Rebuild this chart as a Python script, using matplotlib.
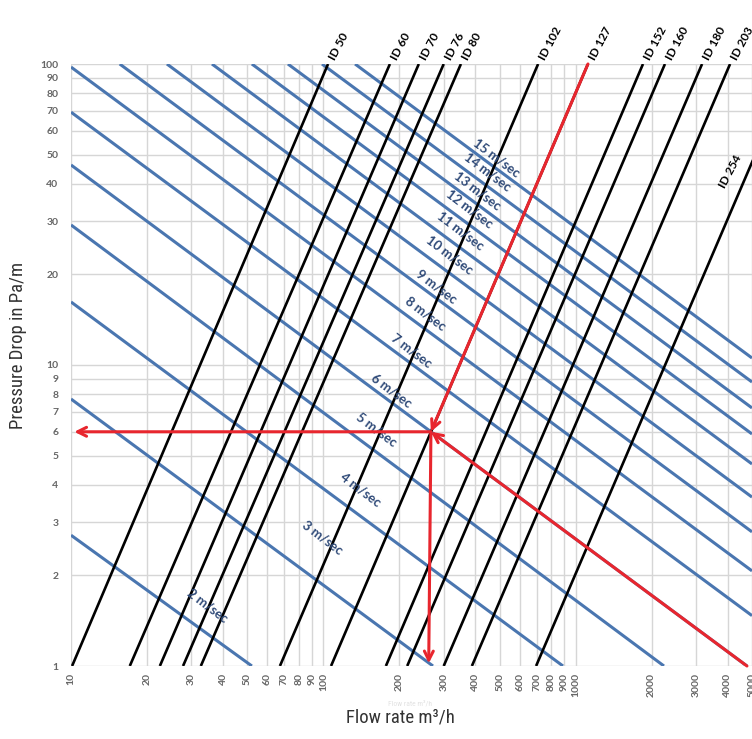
import numpy as np
import matplotlib
matplotlib.use('Agg')
import matplotlib.pyplot as plt

# pipe lines: flow rate (m3/h) where each line meets 1 Pa/m and 100 Pa/m
pipe_ids = ['ID 50', 'ID 60', 'ID 70', 'ID 76', 'ID 80', 'ID 102', 'ID 127',
            'ID 152', 'ID 160', 'ID 180', 'ID 203', 'ID 254']
pipe_q_at_1 = [10.1, 17.1, 22.5, 27.8, 32.7, 67.3, 107.3, 177, 215, 300, 388, 697]
pipe_q_at_100 = [104.4, 183.6, 239, 300, 351, 710, 1119, 1849, 2259, 3170, 4093, 7345]

# velocity lines (m/sec): start and end points
velocities = [2, 3, 4, 5, 6, 7, 8, 9, 10, 11, 12, 13, 14, 15]
vel_start_q = [10, 10, 10, 10, 10, 10, 10, 15.6, 24.0, 36.2, 52.1, 72.4, 98.8, 133.6]
vel_start_dp = [2.72, 7.71, 16.2, 29.2, 46.2, 69.2, 97.7, 100, 100, 100, 100, 100, 100, 100]
vel_end_q = [52.1, 272, 891, 2239, 4775, 5000, 5000, 5000, 5000, 5000, 5000, 5000, 5000, 5000]
vel_end_dp = [1, 1, 1, 1, 1, 1.47, 2.07, 2.79, 3.64, 4.69, 5.90, 7.20, 8.78, 10.55]

# worked example: ID 127 at 6 m/sec
op_q = 267
op_dp = 6
op_pipe = 'ID 127'
op_vel = 6

x_ticks = [10, 20, 30, 40, 50, 60, 70, 80, 90, 100, 200, 300, 400, 500, 600, 700,
           800, 900, 1000, 2000, 3000, 4000, 5000]
y_ticks = [1, 2, 3, 4, 5, 6, 7, 8, 9, 10, 20, 30, 40, 50, 60, 70, 80, 90, 100]

# label positions (flow, pressure drop) for the velocity labels
vel_label_q = [34.9, 98.9, 140, 163, 187, 223, 255, 282, 318, 351, 381, 410, 450, 488]
vel_label_dp = [1.59, 2.68, 3.84, 6.08, 8.2, 11.2, 14.8, 18.2, 23.2, 27.9, 33.0, 37.9, 43.8, 48.7]

BLUE = '#4a76b0'
BLUE_TXT = '#2f4a78'
RED = '#e8262e'
GRID = '#d6d6d6'
TICK = '#666666'

fig = plt.figure(figsize = (7.52, 7.39), dpi = 100)
ax = fig.add_axes([71 / 752, 73 / 739, 681 / 752, 602 / 739])
ax.set_xscale('log')
ax.set_yscale('log')
ax.set_xlim(10, 5000)
ax.set_ylim(1, 100)

for s in ax.spines.values():
    s.set_visible(False)

# grid
for q in x_ticks:
    ax.axvline(q, color = GRID, lw = 1.0, zorder = 0)
for p in y_ticks:
    ax.axhline(p, color = GRID, lw = 1.0, zorder = 0)

ax.set_xticks(x_ticks)
ax.set_xticklabels([str(v) for v in x_ticks], rotation = 90)
ax.set_yticks(y_ticks)
ax.set_yticklabels([str(v) for v in y_ticks])
ax.xaxis.set_minor_locator(matplotlib.ticker.NullLocator())
ax.yaxis.set_minor_locator(matplotlib.ticker.NullLocator())
ax.tick_params(length = 0, labelsize = 7.5, labelcolor = TICK)
ax.tick_params(axis = 'y', pad = 9)
ax.tick_params(axis = 'x', pad = 5)
for t in ax.get_xticklabels() + ax.get_yticklabels():
    t.set_family(['Lato', 'DejaVu Sans'])
    t.set_fontweight('bold')

# velocity lines
for i, v in enumerate(velocities):
    ax.plot([vel_start_q[i], vel_end_q[i]], [vel_start_dp[i], vel_end_dp[i]],
        color = BLUE, lw = 2.2, solid_capstyle = 'butt', zorder = 2)
    ax.text(vel_label_q[i], vel_label_dp[i], '%d m/sec' % v, rotation = -37,
        rotation_mode = 'anchor', ha = 'center', va = 'center', fontsize = 9.5,
        fontweight = 'bold', color = BLUE_TXT, family = ['Lato', 'DejaVu Sans'], zorder = 5)

# pipe lines
for i, name in enumerate(pipe_ids):
    ax.plot([pipe_q_at_1[i], pipe_q_at_100[i]], [1, 100],
        color = 'black', lw = 1.9, solid_capstyle = 'butt', zorder = 3)
    if name == 'ID 254':
        ax.text(4093, 43.8, name, rotation = 62, rotation_mode = 'anchor',
            ha = 'center', va = 'center', fontsize = 8.5, fontweight = 'bold',
            family = ['Lato', 'DejaVu Sans'], zorder = 5)
    else:
        ax.annotate(name, xy = (pipe_q_at_100[i], 100), xytext = (3, 3),
            textcoords = 'offset points', rotation = 62, rotation_mode = 'anchor',
            ha = 'left', va = 'center', fontsize = 8.5, fontweight = 'bold',
            family = ['Lato', 'DejaVu Sans'], annotation_clip = False)

# worked example in red
k = pipe_ids.index(op_pipe)
j = velocities.index(op_vel)
arrow = dict(arrowstyle = '->', color = RED, lw = 2.2, mutation_scale = 16,
    shrinkA = 0, shrinkB = 0)
ax.annotate('', xy = (op_q, op_dp), xytext = (pipe_q_at_100[k], 100),
    arrowprops = arrow, zorder = 6)
ax.annotate('', xy = (op_q, op_dp), xytext = (vel_end_q[j], vel_end_dp[j]),
    arrowprops = arrow, zorder = 6)
ax.annotate('', xy = (10.3, op_dp), xytext = (op_q, op_dp), arrowprops = arrow, zorder = 6)
ax.annotate('', xy = (op_q * 0.98, 1.02), xytext = (op_q, op_dp), arrowprops = arrow, zorder = 6)

label_font = ['Roboto Condensed', 'Liberation Sans Narrow', 'DejaVu Sans']
fig.text(18 / 752, 1 - 345 / 739, 'Pressure Drop in Pa/m', rotation = 90,
    ha = 'center', va = 'center', fontsize = 13.5, color = '#333333', family = label_font)
fig.text(400 / 752, 1 - 718 / 739, 'Flow rate m\u00b3/h', ha = 'center', va = 'center',
    fontsize = 13.5, color = '#333333', family = label_font)
# faint remnant of the original axis caption
fig.text(410 / 752, 1 - 703 / 739, 'Flow rate m\u00b3/h', ha = 'center', va = 'center',
    fontsize = 5.5, color = '#e2e2e2', family = label_font)

plt.savefig('out.png', dpi = 100)
